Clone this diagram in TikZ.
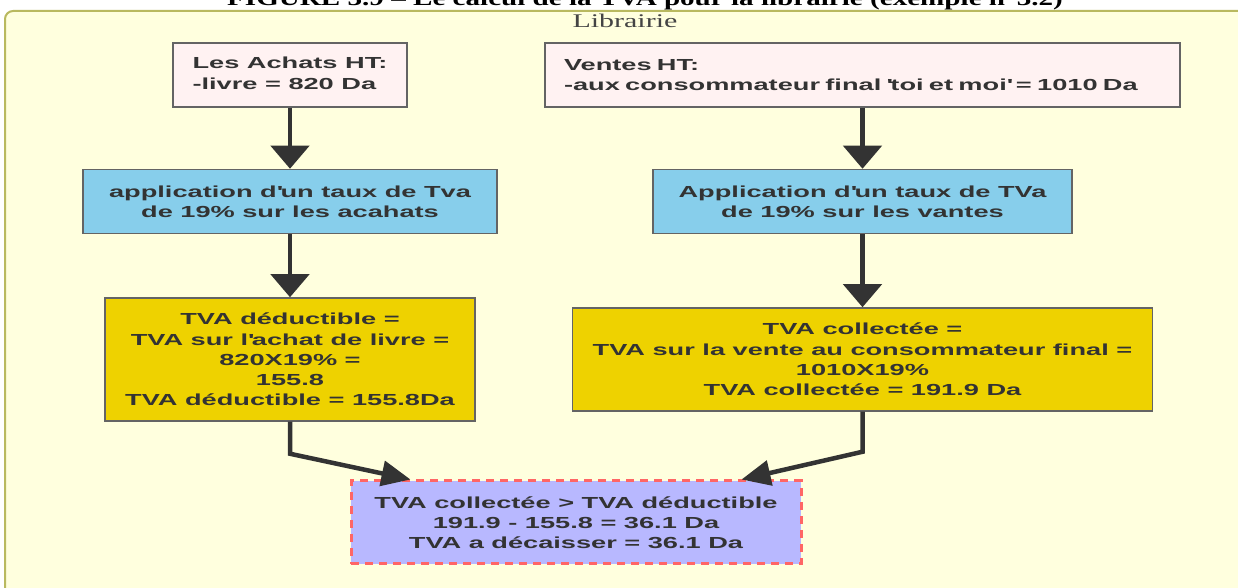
\documentclass[tikz,border=0pt]{standalone}
\usepackage{fontspec}
\usetikzlibrary{arrows.meta}
\usetikzlibrary{positioning}

\newfontfamily\boxfont{Liberation Sans Bold}[FakeStretch=1.7]
\newfontfamily\clusterfont{Liberation Serif}[FakeStretch=1.55]
\newfontfamily\captionfont{Liberation Serif Bold}[FakeStretch=1.38]

\definecolor{panelyellow}{RGB}{255,255,222}
\definecolor{panelolive}{RGB}{185,185,95}
\definecolor{sourcepink}{RGB}{255,242,242}
\definecolor{rateblue}{RGB}{135,206,235}
\definecolor{taxyellow}{RGB}{238,210,0}
\definecolor{resultblue}{RGB}{184,184,255}
\definecolor{dashred}{RGB}{255,102,102}
\definecolor{edgegray}{RGB}{100,100,100}
\definecolor{textgray}{RGB}{51,51,51}
\definecolor{labelgray}{RGB}{68,68,68}

\begin{document}
\begin{tikzpicture}[
        font=\boxfont\fontsize{9.1}{11.5}\selectfont,
        text=textgray,
        block/.style={
            draw=edgegray,
            line width=0.03cm,
            align=center,
            minimum height=1.28cm,
            inner sep=0pt
        },
        source/.style={block, fill=sourcepink},
        rate/.style={block, fill=rateblue},
        tax/.style={block, fill=taxyellow},
        result/.style={
            block,
            fill=resultblue,
            draw=dashred,
            line width=0.06cm,
            dash pattern=on 0.16cm off 0.12cm
        },
        arrow/.style={-{Triangle[width=0.76cm,length=0.46cm]}, draw=textgray, line width=0.09cm},
        joinarrow/.style={-{Triangle[width=0.5cm,length=0.58cm]}, draw=textgray, line width=0.09cm}
    ]
        \useasboundingbox (0,0) rectangle (24.76,-11.76);
        \draw[panelolive, fill=panelyellow, line width=0.04cm, rounded corners=0.16cm] (0.1,-0.22) rectangle (25.3,-12.3);

        \node[font=\captionfont\fontsize{12}{14}\selectfont, text=black, anchor=base] (caption) at (12.9,-0.11) {FIGURE 3.9 – Le calcul de la TVA pour la librairie (exemple n°3.2)};
        \node[font=\clusterfont\fontsize{11}{13}\selectfont, text=labelgray, anchor=base] (cluster) at (12.5,-0.56) {Librairie};

        \node[source, minimum width=4.68cm] (achats) at (5.8,-1.5) {\begin{tabular}{@{}l@{}}Les Achats HT:\\-livre = 820 Da\end{tabular}};
        \node[source, text width=11.94cm, inner xsep=0.38cm, align=left] (ventes) at (17.25,-1.5) {Ventes HT:\\-aux consommateur final \textquotesingle toi et moi\textquotesingle{} = 1010 Da};

        \node[rate, minimum width=8.28cm, below=1.22cm of achats] (tauxachat) {application d\textquotesingle un taux de Tva\\de 19\% sur les acahats};
        \node[rate, minimum width=8.38cm, below=1.22cm of ventes] (tauxvente) {Application d\textquotesingle un taux de TVa\\de 19\% sur les vantes};

        \node[tax, minimum width=7.4cm, minimum height=2.46cm, below=1.26cm of tauxachat] (deductible) {TVA déductible =\\TVA sur l\textquotesingle achat de livre =\\820X19\% =\\155.8\\TVA déductible = 155.8Da};
        \node[tax, minimum width=11.6cm, minimum height=2.06cm, below=1.46cm of tauxvente] (collectee) {TVA collectée =\\TVA sur la vente au consommateur final =\\1010X19\%\\TVA collectée = 191.9 Da};

        \node[result, minimum width=9.0cm, minimum height=1.66cm] (solde) at (11.52,-10.45) {TVA collectée > TVA déductible\\191.9 - 155.8 = 36.1 Da\\TVA a décaisser = 36.1 Da};

        \draw[arrow] (achats) -- (tauxachat);
        \draw[arrow] (ventes) -- (tauxvente);
        \draw[arrow] (tauxachat) -- (deductible);
        \draw[arrow] (tauxvente) -- (collectee);
        \draw[joinarrow] (deductible.south) -- ++(0,-0.64) -- ([xshift=1.22cm]solde.north west);
        \draw[joinarrow] (collectee.south) -- ++(0,-0.8) -- ([xshift=-1.22cm]solde.north east);
    \end{tikzpicture}
\end{document}
